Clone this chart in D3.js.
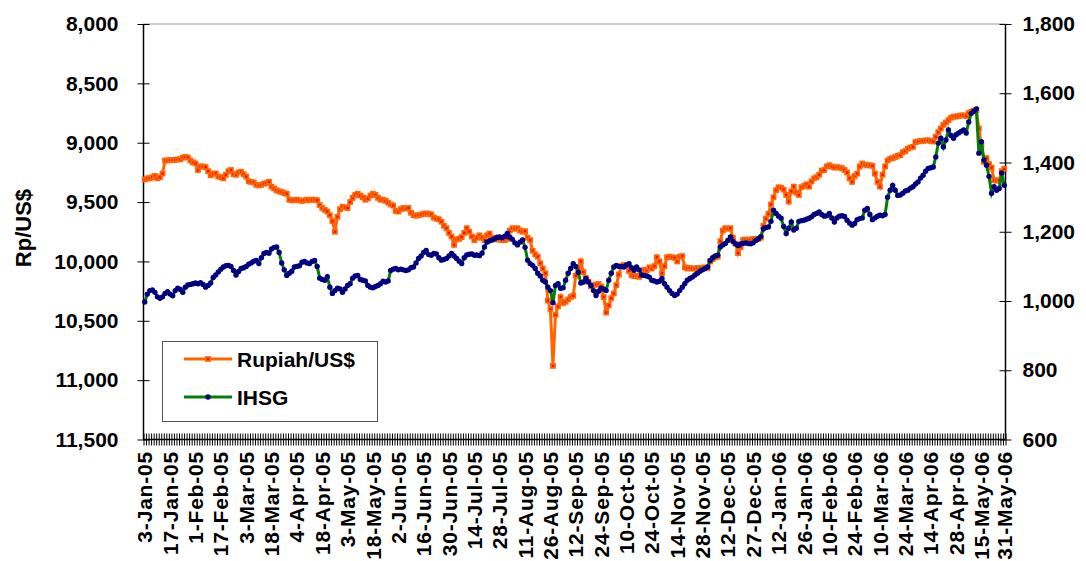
<!DOCTYPE html>
<html lang="en">
    <head>
        <meta charset="UTF-8" />
        <title>Rupiah/US$ vs IHSG</title>
        <style>
            body {
                margin: 0;
                background: #fff;
            }
            text {
                font-family: 'Liberation Sans', Arial, sans-serif;
                font-weight: bold;
                fill: #000;
            }
            .axis path {
                stroke: #000;
                stroke-width: 1.5px;
            }
            .axis line {
                stroke: #000;
                stroke-width: 1px;
            }
        </style>
    </head>
    <body>
        <svg width="1086" height="561"></svg>
        <script src="https://d3js.org/d3.v7.min.js"></script>
        <script>
            // daily closes, 3-Jan-05 .. 31-May-06 (trading days)
            const rupiah = [
                9310, 9300, 9300, 9290, 9280, 9300, 9290, 9260, 9150, 9150,
                9145, 9145, 9145, 9140, 9140, 9125, 9120, 9125, 9150, 9165,
                9175, 9230, 9200, 9200, 9205, 9240, 9275, 9260, 9260, 9285,
                9290, 9300, 9270, 9240, 9230, 9265, 9270, 9250, 9245, 9265,
                9285, 9325, 9330, 9335, 9355, 9360, 9355, 9345, 9340, 9330,
                9370, 9385, 9400, 9410, 9415, 9425, 9430, 9480, 9485, 9485,
                9480, 9485, 9490, 9485, 9480, 9485, 9480, 9480, 9485, 9525,
                9550, 9565, 9580, 9610, 9660, 9750, 9625, 9560, 9540, 9545,
                9550, 9500, 9465, 9440, 9430, 9445, 9460, 9480, 9470, 9445,
                9430, 9440, 9465, 9480, 9480, 9490, 9505, 9520, 9530, 9575,
                9580, 9560, 9550, 9555, 9550, 9590, 9610, 9615, 9610, 9605,
                9600, 9595, 9600, 9605, 9630, 9640, 9645, 9665, 9700, 9720,
                9760, 9790, 9860, 9815, 9810, 9795, 9760, 9720, 9750, 9790,
                9820, 9800, 9780, 9800, 9820, 9780, 9765, 9800, 9810, 9815,
                9815, 9820, 9820, 9810, 9740, 9720, 9725, 9720, 9740, 9750,
                9745, 9800, 9820, 9910, 9940, 9960, 10015, 10060, 10100, 10330,
                10400, 10880, 10450, 10380, 10300, 10350, 10340, 10320, 10300, 10290,
                10120, 10060, 10000, 10090, 10140, 10170, 10210, 10200, 10195, 10190,
                10210, 10300, 10430, 10370, 10310, 10270, 10200, 10110, 10040, 10030,
                10035, 10080, 10115, 10125, 10120, 10130, 10110, 10070, 10075, 10050,
                10060, 10040, 9965, 10000, 10100, 10040, 9965, 9960, 9965, 9970,
                10000, 9960, 9955, 10050, 10060, 10055, 10060, 10060, 10055, 10055,
                10060, 10050, 10055, 10000, 9980, 9965, 9960, 9830, 9740, 9720,
                9725, 9720, 9800, 9850, 9930, 9880, 9820, 9815, 9820, 9815,
                9810, 9815, 9810, 9800, 9700, 9640, 9600, 9520, 9460, 9400,
                9375, 9380, 9395, 9440, 9495, 9410, 9370, 9420, 9440, 9375,
                9365, 9350, 9370, 9325, 9300, 9290, 9270, 9235, 9230, 9200,
                9190, 9200, 9210, 9205, 9210, 9215, 9230, 9250, 9300, 9330,
                9280, 9260, 9200, 9175, 9185, 9190, 9190, 9195, 9260, 9330,
                9370, 9270, 9200, 9150, 9135, 9130, 9120, 9110, 9105, 9080,
                9070, 9050, 9040, 9035, 8995, 8990, 8985, 8985, 8980, 8980,
                8985, 8990, 8950, 8910, 8880, 8850, 8830, 8810, 8790, 8780,
                8780, 8775, 8770, 8770, 8775, 8750, 8740, 8730, 8725, 8880,
                9020, 9160, 9130, 9180, 9210, 9315, 9320, 9315, 9240, 9220
            ];

            const ihsg = [
                997, 1020, 1030, 1032, 1025, 1012, 1008, 1012, 1022, 1027,
                1020, 1015, 1030, 1037, 1033, 1025, 1040, 1046, 1048, 1050,
                1052, 1050, 1053, 1048, 1040, 1045, 1052, 1068, 1075, 1084,
                1092, 1098, 1102, 1103, 1100, 1088, 1075, 1085, 1094, 1096,
                1100, 1106, 1110, 1115, 1117, 1108, 1125, 1137, 1140, 1138,
                1150, 1155, 1156, 1140, 1110, 1090, 1074, 1080, 1086, 1098,
                1100, 1102, 1112, 1114, 1110, 1108, 1114, 1117, 1100, 1066,
                1062, 1060, 1070, 1040, 1022, 1030, 1037, 1035, 1025, 1035,
                1045, 1050, 1066, 1072, 1074, 1062, 1060, 1058, 1045, 1040,
                1038, 1042, 1045, 1050, 1057, 1055, 1058, 1088, 1092, 1094,
                1090, 1092, 1090, 1088, 1090, 1096, 1098, 1110, 1123, 1130,
                1140, 1146, 1134, 1132, 1137, 1136, 1125, 1118, 1120, 1123,
                1130, 1137, 1130, 1123, 1115, 1108, 1125, 1133, 1135, 1136,
                1132, 1133, 1131, 1138, 1156, 1170, 1174, 1176, 1180, 1184,
                1185, 1183, 1187, 1195, 1185, 1178, 1168, 1162, 1170, 1176,
                1155, 1118, 1108, 1103, 1094, 1080, 1072, 1060, 1055, 1040,
                1030, 995, 1045, 1050, 1037, 1038, 1060, 1080, 1094, 1108,
                1100, 1083, 1052, 1055, 1065, 1055, 1045, 1030, 1016, 1028,
                1037, 1035, 1030, 1060, 1080, 1098, 1103, 1100, 1100, 1098,
                1104, 1108, 1096, 1089, 1098, 1090, 1075, 1074, 1072, 1069,
                1060, 1058, 1055, 1057, 1065, 1050, 1040, 1030, 1022, 1016,
                1020, 1030, 1040, 1050, 1060, 1065, 1069, 1075, 1080, 1086,
                1090, 1094, 1098, 1117, 1125, 1130, 1132, 1156, 1162, 1166,
                1175, 1185, 1172, 1165, 1160, 1165, 1166, 1168, 1166, 1165,
                1168, 1175, 1180, 1186, 1208, 1212, 1214, 1230, 1262, 1253,
                1245, 1239, 1215, 1195, 1210, 1228, 1205, 1210, 1230, 1232,
                1233, 1236, 1239, 1243, 1250, 1253, 1257, 1250, 1245, 1246,
                1253, 1240, 1228, 1240, 1245, 1246, 1244, 1233, 1225, 1219,
                1224, 1235, 1238, 1240, 1262, 1267, 1250, 1235, 1240, 1245,
                1248, 1246, 1250, 1300, 1320, 1334, 1320, 1305, 1306, 1311,
                1318, 1320, 1326, 1330, 1338, 1344, 1355, 1363, 1375, 1383,
                1385, 1387, 1416, 1456, 1470, 1445, 1465, 1494, 1478, 1470,
                1480, 1485, 1490, 1494, 1485, 1517, 1542, 1548, 1555, 1427,
                1460, 1407, 1392, 1360, 1311, 1330, 1320, 1325, 1370, 1334
            ];

            const dateLabels = [
                '3-Jan-05', '17-Jan-05', '1-Feb-05', '17-Feb-05', '3-Mar-05', '18-Mar-05', '4-Apr-05',
                '18-Apr-05', '3-May-05', '18-May-05', '2-Jun-05', '16-Jun-05', '30-Jun-05', '14-Jul-05',
                '28-Jul-05', '11-Aug-05', '26-Aug-05', '12-Sep-05', '24-Sep-05', '10-Oct-05', '24-Oct-05',
                '14-Nov-05', '28-Nov-05', '12-Dec-05', '27-Dec-05', '12-Jan-06', '26-Jan-06', '10-Feb-06',
                '24-Feb-06', '10-Mar-06', '24-Mar-06', '14-Apr-06', '28-Apr-06', '15-May-06', '31-May-06'
            ];
            // trading-day index of each date label
            const labelDays = [
                0, 10, 20, 30, 40, 50, 60, 70, 80, 90, 100, 110, 120, 130, 140, 150, 160, 170,
                180, 190, 200, 210, 220, 230, 240, 250, 260, 270, 280, 290, 300, 310, 320, 330, 339
            ];

            const leftTicks = [8000, 8500, 9000, 9500, 10000, 10500, 11000, 11500];
            const rightTicks = [600, 800, 1000, 1200, 1400, 1600, 1800];

            const svg = d3.select('svg');
            const plotLeft = 143.5,
                plotRight = 1005.5,
                plotTop = 24,
                plotBottom = 439.5;
            const N = rupiah.length;

            const x = d3.scaleBand().domain(d3.range(N)).range([plotLeft, plotRight]);
            const xc = (i) => x(i) + x.bandwidth() / 2;
            const xEdge = d3.scaleLinear().domain([0, N]).range([plotLeft, plotRight]);

            const yL = d3.scaleLinear().domain([8000, 11500]).range([plotTop, plotBottom]);
            const yR = d3.scaleLinear().domain([600, 1800]).range([plotBottom, plotTop]);

            // plot area border
            svg.append('rect')
                .attr('x', plotLeft)
                .attr('y', plotTop)
                .attr('width', plotRight - plotLeft)
                .attr('height', plotBottom - plotTop)
                .attr('fill', 'none')
                .attr('stroke', '#999')
                .attr('stroke-width', 1);

            // x axis: one tick per trading day, crossing the axis line
            const xAxis = svg
                .append('g')
                .attr('class', 'axis')
                .attr('transform', `translate(0,${plotBottom})`)
                .call(d3.axisBottom(xEdge).tickValues(d3.range(N + 1)).tickSize(6).tickFormat(''));
            xAxis.selectAll('.tick line').attr('y1', -6);
            xAxis.select('.domain').attr('d', `M${plotLeft},0H${plotRight}`);

            const yAxisL = svg
                .append('g')
                .attr('class', 'axis')
                .attr('transform', `translate(${plotLeft},0)`)
                .call(d3.axisLeft(yL).tickValues(leftTicks).tickSize(6).tickPadding(19).tickFormat(d3.format(',')));
            yAxisL.selectAll('.tick line').attr('x1', 6);
            yAxisL.select('.domain').attr('d', `M0,${plotTop}V${plotBottom}`);
            yAxisL.selectAll('text').style('font-size', '21px');

            const yAxisR = svg
                .append('g')
                .attr('class', 'axis')
                .attr('transform', `translate(${plotRight},0)`)
                .call(d3.axisRight(yR).tickValues(rightTicks).tickSize(6).tickPadding(11).tickFormat(d3.format(',')));
            yAxisR.selectAll('.tick line').attr('x1', -6);
            yAxisR.select('.domain').attr('d', `M0,${plotTop}V${plotBottom}`);
            yAxisR.selectAll('text').style('font-size', '21px');

            // date labels
            svg.append('g')
                .selectAll('text')
                .data(dateLabels)
                .join('text')
                .attr('transform', (d, k) => `translate(${xc(labelDays[k])},451) rotate(-90)`)
                .attr('text-anchor', 'end')
                .attr('dy', '0.36em')
                .style('font-size', '21px')
                .style('letter-spacing', '0.8px')
                .text((d) => d);

            svg.append('text')
                .attr('transform', 'translate(31,228) rotate(-90)')
                .attr('text-anchor', 'middle')
                .style('font-size', '22px')
                .text('Rp/US$');

            // Rupiah series
            const lineL = d3
                .line()
                .x((d, i) => xc(i))
                .y((d) => yL(d));
            svg.append('path').datum(rupiah).attr('d', lineL).attr('fill', 'none').attr('stroke', '#FF6600').attr('stroke-width', 3);
            svg.append('g')
                .selectAll('rect')
                .data(rupiah)
                .join('rect')
                .attr('x', (d, i) => xc(i) - 2)
                .attr('y', (d) => yL(d) - 2)
                .attr('width', 4)
                .attr('height', 4)
                .attr('fill', '#FF0000')
                .attr('stroke', '#FF6600')
                .attr('stroke-width', 1.8);

            // IHSG series
            const lineR = d3
                .line()
                .x((d, i) => xc(i))
                .y((d) => yR(d));
            svg.append('path').datum(ihsg).attr('d', lineR).attr('fill', 'none').attr('stroke', '#008000').attr('stroke-width', 3);
            svg.append('g')
                .selectAll('circle')
                .data(ihsg)
                .join('circle')
                .attr('cx', (d, i) => xc(i))
                .attr('cy', (d) => yR(d))
                .attr('r', 2.7)
                .attr('fill', '#000080');

            // legend
            const legend = svg.append('g');
            legend.append('rect').attr('x', 162.5).attr('y', 341.5).attr('width', 215).attr('height', 80).attr('fill', '#fff').attr('stroke', '#555').attr('stroke-width', 1);
            const items = [
                { name: 'Rupiah/US$', y: 359, color: '#FF6600' },
                { name: 'IHSG', y: 397, color: '#008000' }
            ];
            items.forEach((it, k) => {
                legend.append('line').attr('x1', 184).attr('x2', 232).attr('y1', it.y).attr('y2', it.y).attr('stroke', it.color).attr('stroke-width', 3);
                if (k === 0) {
                    legend.append('rect').attr('x', 206).attr('y', it.y - 2).attr('width', 4).attr('height', 4).attr('fill', '#FF0000').attr('stroke', '#FF6600').attr('stroke-width', 1.8);
                } else {
                    legend.append('circle').attr('cx', 208).attr('cy', it.y).attr('r', 2.7).attr('fill', '#000080');
                }
                legend.append('text').attr('x', 237).attr('y', it.y).attr('dy', '0.36em').style('font-size', '21px').text(it.name);
            });
        </script>
    </body>
</html>
